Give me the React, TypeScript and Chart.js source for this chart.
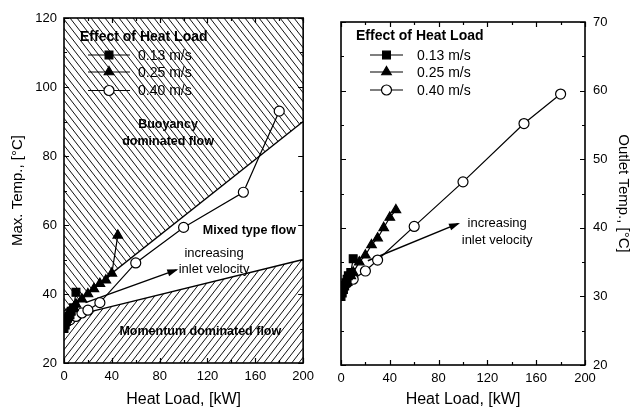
import React, { useEffect, useRef } from "react";
import { Chart, registerables } from "chart.js";
Chart.register(...registerables);

const FONT = '"Liberation Sans", Arial, Helvetica, sans-serif';

// ---------- data: left chart (Max. Temp.) ----------
const maxX13 = [0, 1, 2, 3, 4, 5, 6, 8, 10];
const maxY13 = [30, 31, 32, 33, 33.5, 34, 35, 36, 40.5];
const maxX25 = [0, 2, 5, 8, 10, 15, 20, 25, 30, 35, 40, 45];
const maxY25 = [32, 33, 35, 36, 37, 38.5, 40, 41.5, 43, 44, 46, 57];
const maxX40 = [0, 2, 5, 10, 15, 20, 30, 60, 100, 150, 180];
const maxY40 = [31, 32, 32.5, 33.5, 34.5, 35.3, 37.5, 49, 59.3, 69.5, 93];
const buoyancyX = [0, 200];
const buoyancyY = [35, 90];
const momentumX = [0, 200];
const momentumY = [33, 50];
const maxArrowX = [18, 94];
const maxArrowY = [37.5, 47];

// ---------- data: right chart (Outlet Temp.) ----------
const outX13 = [0, 1, 2, 3, 4, 5, 6, 8, 10];
const outY13 = [30, 30.5, 31, 31.5, 32, 32.5, 33, 33.5, 35.5];
const outX25 = [0, 2, 5, 8, 10, 15, 20, 25, 30, 35, 40, 45];
const outY25 = [31, 31.5, 32, 33, 33.5, 35, 36, 37.5, 38.5, 40, 41.5, 42.6];
const outX40 = [0, 2, 5, 10, 20, 30, 60, 100, 150, 180];
const outY40 = [31, 31.5, 32, 32.5, 33.7, 35.3, 40.2, 46.7, 55.2, 59.5];
const outArrowX = [22, 96];
const outArrowY = [35.2, 40.6];

// ---------- labels ----------
const seriesLabels = ["0.13 m/s", "0.25 m/s", "0.40 m/s"];
const legendTitle = "Effect of Heat Load";
const xTickLabels = [0, 40, 80, 120, 160, 200];
const maxTickLabels = [20, 40, 60, 80, 100, 120];
const outTickLabels = [20, 30, 40, 50, 60, 70];

const leftNotes = [
  { text: "Buoyancy", x: 87, y: 89, bold: true },
  { text: "dominated flow", x: 87, y: 84.1, bold: true },
  { text: "Mixed type flow", x: 155, y: 58.3, bold: true },
  { text: "increasing", x: 125.5, y: 51.9, bold: false },
  { text: "inlet velocity", x: 125.5, y: 47.2, bold: false },
  { text: "Momentum dominated flow", x: 114, y: 29, bold: true },
];
const rightNotes = [
  { text: "increasing", x: 128, y: 40.6, bold: false },
  { text: "inlet velocity", x: 128, y: 38.1, bold: false },
];

const toPts = (xs: number[], ys: number[]) => xs.map((x, i) => ({ x, y: ys[i] }));

function hatch(dir: number) {
  const w = 7, h = 9;
  const c = document.createElement("canvas");
  c.width = w; c.height = h;
  const g = c.getContext("2d")!;
  g.strokeStyle = "#111";
  g.lineWidth = 1;
  for (const k of [-1, 0, 1]) {
    g.beginPath();
    if (dir > 0) { g.moveTo(k * w, 0); g.lineTo(k * w + w, h); }
    else { g.moveTo(k * w, h); g.lineTo(k * w + w, 0); }
    g.stroke();
  }
  return g.createPattern(c, "repeat")!;
}

const styles = [
  { ps: "rect", r: 5.5, fill: "#000" },
  { ps: "triangle", r: 5.5, fill: "#000" },
  { ps: "circle", r: 5, fill: "#fff" },
];

function series(xs: number[], ys: number[], i: number) {
  const s = styles[i];
  return {
    label: seriesLabels[i],
    data: toPts(xs, ys),
    borderColor: "#000",
    borderWidth: 1.2,
    pointStyle: s.ps,
    pointRadius: s.r,
    pointBackgroundColor: s.fill,
    pointBorderColor: "#000",
    pointBorderWidth: 1.2,
    fill: false,
    tension: 0,
  };
}
function plain(xs: number[], ys: number[], extra: any = {}) {
  return {
    data: toPts(xs, ys),
    borderColor: "#000",
    borderWidth: 1.4,
    pointRadius: 0,
    tension: 0,
    fill: false,
    ...extra,
  };
}

function drawMarker(ctx: CanvasRenderingContext2D, i: number, x: number, y: number) {
  const s = styles[i];
  ctx.save();
  ctx.fillStyle = s.fill;
  ctx.strokeStyle = "#000";
  ctx.lineWidth = 1.2;
  ctx.beginPath();
  if (s.ps === "rect") {
    const h = s.r / Math.SQRT2;
    ctx.rect(x - h, y - h, 2 * h, 2 * h);
  } else if (s.ps === "triangle") {
    const r = s.r;
    ctx.moveTo(x, y - r);
    ctx.lineTo(x + 0.866 * r, y + 0.5 * r);
    ctx.lineTo(x - 0.866 * r, y + 0.5 * r);
    ctx.closePath();
  } else {
    ctx.arc(x, y, s.r, 0, Math.PI * 2);
  }
  ctx.fill();
  ctx.stroke();
  ctx.restore();
}

function makeDecor(cfg: any) {
  return {
    id: "decor" + cfg.name,
    afterDatasetsDraw(chart: any) {
      const { ctx, chartArea: a, scales } = chart;
      // arrowhead
      const meta = chart.getDatasetMeta(cfg.arrowIndex);
      const p0 = meta.data[0], p1 = meta.data[1];
      const ang = Math.atan2(p1.y - p0.y, p1.x - p0.x);
      ctx.save();
      ctx.fillStyle = "#000";
      ctx.translate(p1.x, p1.y);
      ctx.rotate(ang);
      ctx.beginPath();
      ctx.moveTo(2, 0);
      ctx.lineTo(-9, -3.5);
      ctx.lineTo(-9, 3.5);
      ctx.closePath();
      ctx.fill();
      ctx.restore();

      // notes
      ctx.save();
      ctx.fillStyle = "#000";
      ctx.textAlign = "center";
      ctx.textBaseline = "middle";
      for (const n of cfg.notes) {
        ctx.font = n.bold ? `bold 12.5px ${FONT}` : `13px ${FONT}`;
        ctx.fillText(n.text, scales.x.getPixelForValue(n.x), scales.y.getPixelForValue(n.y));
      }
      ctx.restore();

      // legend
      const L = cfg.legend;
      ctx.save();
      ctx.fillStyle = "#000";
      ctx.textBaseline = "middle";
      ctx.textAlign = "left";
      ctx.font = `bold 14px ${FONT}`;
      ctx.fillText(legendTitle, a.left + L.titleDx, a.top + L.titleDy);
      ctx.font = `14px ${FONT}`;
      seriesLabels.forEach((lab, i) => {
        const y = a.top + L.rows[i];
        ctx.strokeStyle = "#000";
        ctx.lineWidth = 1.2;
        ctx.beginPath();
        ctx.moveTo(a.left + L.x0, y);
        ctx.lineTo(a.left + L.x1, y);
        ctx.stroke();
        drawMarker(ctx, i, a.left + (L.x0 + L.x1) / 2, y);
        ctx.fillStyle = "#000";
        ctx.fillText(lab, a.left + L.tx, y + 1);
      });
      ctx.restore();
    },
    afterDraw(chart: any) {
      const { ctx, chartArea: a, scales } = chart;
      ctx.save();
      ctx.strokeStyle = "#000";
      ctx.lineWidth = 1.6;
      ctx.strokeRect(a.left, a.top, a.right - a.left, a.bottom - a.top);
      ctx.lineWidth = 1.2;
      ctx.beginPath();
      for (const t of scales.x.ticks) {
        const px = Math.round(scales.x.getPixelForValue(t.value)) + 0.5;
        const len = xTickLabels.includes(t.value) ? 5 : 3;
        ctx.moveTo(px, a.bottom); ctx.lineTo(px, a.bottom - len);
        ctx.moveTo(px, a.top); ctx.lineTo(px, a.top + len);
      }
      for (const t of scales.y.ticks) {
        const py = Math.round(scales.y.getPixelForValue(t.value)) + 0.5;
        const len = cfg.yLabels.includes(t.value) ? 5 : 3;
        ctx.moveTo(a.left, py); ctx.lineTo(a.left + len, py);
        ctx.moveTo(a.right, py); ctx.lineTo(a.right - len, py);
      }
      ctx.stroke();
      ctx.restore();
    },
  };
}

const tickFont = { family: FONT, size: 13 };

export default function App() {
  const leftRef = useRef<HTMLCanvasElement>(null);
  const rightRef = useRef<HTMLCanvasElement>(null);

  useEffect(() => {
    const left = new Chart(leftRef.current!, {
      type: "line",
      data: {
        datasets: [
          series(maxX13, maxY13, 0),
          series(maxX25, maxY25, 1),
          series(maxX40, maxY40, 2),
          plain(maxArrowX, maxArrowY),
          plain(buoyancyX, buoyancyY, { fill: "end", backgroundColor: hatch(1) }),
          plain(momentumX, momentumY, { fill: "start", backgroundColor: hatch(-1) }),
        ] as any,
      },
      options: {
        responsive: false,
        animation: false,
        devicePixelRatio: 1,
        events: [],
        layout: { padding: { left: 4, top: 18, right: 12, bottom: 0 } },
        plugins: {
          legend: { display: false },
          tooltip: { enabled: false },
          filler: { drawTime: "beforeDatasetsDraw" },
        } as any,
        scales: {
          x: {
            type: "linear", min: 0, max: 200,
            ticks: {
              stepSize: 20, autoSkip: false, maxRotation: 0, color: "#000", font: tickFont, padding: 6,
              callback: (v: any) => (xTickLabels.includes(v) ? String(v) : ""),
            },
            grid: { display: false, drawTicks: false },
            border: { display: false },
            title: { display: true, text: "Heat Load, [kW]", color: "#000", font: { family: FONT, size: 16 }, padding: { top: 0, bottom: 3 } },
            afterFit: (s: any) => { s.height = 49; },
          },
          y: {
            type: "linear", min: 20, max: 120,
            ticks: {
              stepSize: 10, autoSkip: false, color: "#000", font: tickFont, padding: 7,
              callback: (v: any) => (maxTickLabels.includes(v) ? String(v) : ""),
            },
            grid: { display: false, drawTicks: false },
            border: { display: false },
            title: { display: true, text: "Max. Temp., [°C]", color: "#000", font: { family: FONT, size: 15 }, padding: { top: 5, bottom: 0 } },
            afterFit: (s: any) => { s.width = 60; },
          },
        },
      } as any,
      plugins: [makeDecor({
        name: "L", arrowIndex: 3, notes: leftNotes, yLabels: maxTickLabels,
        legend: { titleDx: 16, titleDy: 19, rows: [37, 54, 72.5], x0: 24, x1: 66, tx: 74 },
      })],
    });

    const right = new Chart(rightRef.current!, {
      type: "line",
      data: {
        datasets: [
          series(outX13, outY13, 0),
          series(outX25, outY25, 1),
          series(outX40, outY40, 2),
          plain(outArrowX, outArrowY),
        ] as any,
      },
      options: {
        responsive: false,
        animation: false,
        devicePixelRatio: 1,
        events: [],
        layout: { padding: { left: 25, top: 22, right: 0, bottom: 0 } },
        plugins: { legend: { display: false }, tooltip: { enabled: false } },
        scales: {
          x: {
            type: "linear", min: 0, max: 200,
            ticks: {
              stepSize: 20, autoSkip: false, maxRotation: 0, color: "#000", font: tickFont, padding: 6,
              callback: (v: any) => (xTickLabels.includes(v) ? String(v) : ""),
            },
            grid: { display: false, drawTicks: false },
            border: { display: false },
            title: { display: true, text: "Heat Load, [kW]", color: "#000", font: { family: FONT, size: 16 }, padding: { top: 0, bottom: 3 } },
            afterFit: (s: any) => { s.height = 47; },
          },
          y: {
            type: "linear", position: "right", min: 20, max: 70,
            ticks: {
              stepSize: 5, autoSkip: false, color: "#000", font: tickFont, padding: 8,
              callback: (v: any) => (outTickLabels.includes(v) ? String(v) : ""),
            },
            grid: { display: false, drawTicks: false },
            border: { display: false },
            title: { display: true, text: "Outlet Temp., [°C]", color: "#000", font: { family: FONT, size: 15 }, padding: { top: 0, bottom: 0 } },
            afterFit: (s: any) => { s.width = 47; },
          },
        },
      } as any,
      plugins: [makeDecor({
        name: "R", arrowIndex: 3, notes: rightNotes, yLabels: outTickLabels,
        legend: { titleDx: 15, titleDy: 14, rows: [33, 50, 68], x0: 29, x1: 62, tx: 76 },
      })],
    });

    return () => { left.destroy(); right.destroy(); };
  }, []);

  return (
    <div style={{ position: "absolute", left: 0, top: 0, width: 632, height: 412, background: "#fff" }}>
      <canvas ref={leftRef} width={320} height={412} style={{ position: "absolute", left: 0, top: 0, width: 320, height: 412 }} />
      <canvas ref={rightRef} width={316} height={412} style={{ position: "absolute", left: 316, top: 0, width: 316, height: 412 }} />
    </div>
  );
}
